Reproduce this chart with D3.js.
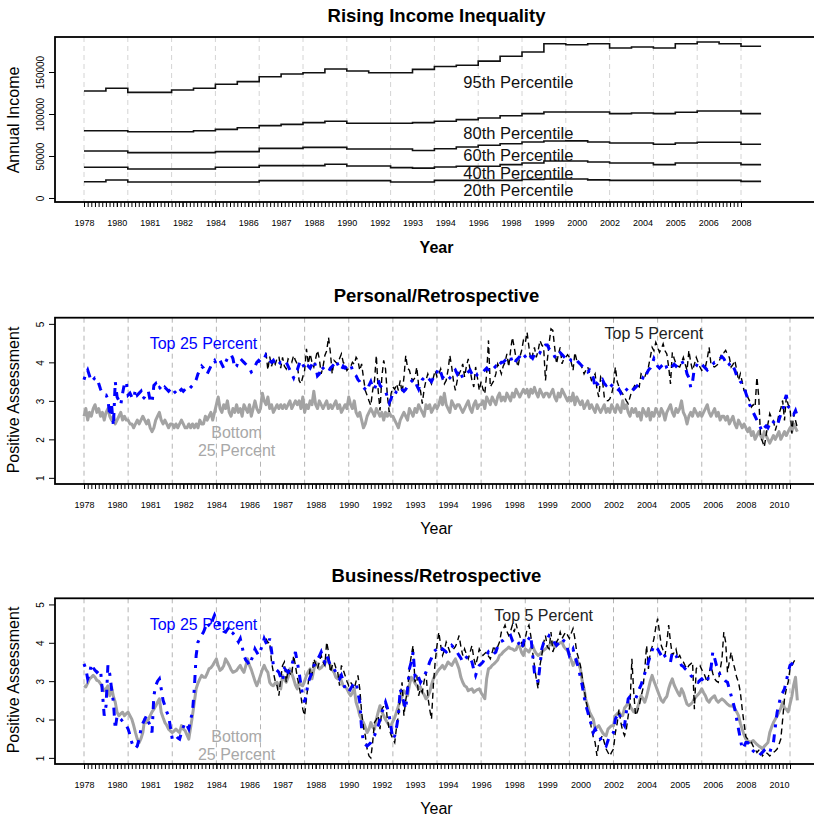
<!DOCTYPE html>
<html>
<head>
<meta charset="utf-8">
<script src="https://cdn.jsdelivr.net/npm/d3@7"></script>
<style>
  body { margin: 0; background: #fff; }
  svg { display: block; font-family: "Liberation Sans", Arial, sans-serif; }
</style>
</head>
<body>
<div class="canvas"></div>
<script>
// ---------------- data ----------------
// annual household income at selected percentiles, 1978-2008
const incomeYears = d3.range(1978, 2009);
const p95 = [127400,130600,125800,125800,128600,130600,135400,138500,144400,147600,
             149200,153600,151200,149200,149200,153200,156500,158000,163000,168700,
             173800,183700,182500,183700,178600,179800,178600,183700,185700,183700,
             180600];
const p80 = [80100,80100,78900,78900,78900,80100,81700,83700,86100,87700,
             89700,91300,88900,88900,88900,89700,91300,93300,95200,98000,
             100400,102400,102400,102400,100400,101200,100400,102000,103600,103600,
             100400];
const p60 = [56000,56000,54000,54000,54000,54000,55200,55200,59100,59100,
             60300,60300,58300,58300,58300,56500,58700,60700,62700,64600,
             66700,67900,68000,66700,65500,65500,63900,65500,66300,66300,
             63900];
const p40 = [36500,36500,34500,34500,34500,34500,36500,36500,38500,38500,
             38500,40100,38100,38100,36100,35500,36900,37700,37700,39700,
             41700,44000,44000,42900,41700,41700,39700,41700,41700,41700,
             39700];
const p20 = [19400,21400,19000,19000,19000,19000,19000,19000,20600,20600,
             20600,20600,20600,20600,19000,19000,21000,21000,21000,21000,
             22000,22600,22600,21500,21000,21000,21000,21000,21000,21000,
             19800];
const incomeNames = ["95th Percentile", "80th Percentile", "60th Percentile", "40th Percentile", "20th Percentile"];

// monthly survey series, Jan 1978 - May 2010 (Top 5 starts Apr 1986)
const seriesStart = [1978, 1];
const top5Start = [1986, 4];

const persBottom = [
  2.6,2.8,2.5,2.7,2.6,2.8,2.9,2.7,2.8,2.6,2.7,2.5,   // 1978
  2.7,2.8,2.6,2.5,2.6,2.4,2.5,2.6,2.7,2.5,2.6,2.5,   // 1979
  2.5,2.4,2.4,2.3,2.4,2.5,2.4,2.5,2.6,2.5,2.4,2.5,   // 1980
  2.3,2.2,2.3,2.5,2.6,2.7,2.5,2.4,2.5,2.4,2.3,2.4,   // 1981
  2.4,2.3,2.4,2.3,2.4,2.5,2.4,2.3,2.3,2.4,2.3,2.4,   // 1982
  2.3,2.4,2.3,2.5,2.4,2.4,2.6,2.5,2.6,2.7,2.5,2.7,   // 1983
  2.9,3.1,2.8,2.7,2.9,2.8,3.0,2.7,2.6,2.8,2.7,2.9,   // 1984
  2.7,2.8,2.6,2.9,2.8,2.7,2.9,2.6,2.8,3.0,2.8,2.7,   // 1985
  2.8,3.2,3.0,2.9,3.1,2.8,2.9,2.7,2.8,2.9,2.8,2.9,   // 1986
  2.8,2.9,2.8,2.9,3.0,2.8,2.9,3.0,2.9,3.0,2.8,3.1,   // 1987
  2.7,2.9,2.8,3.0,2.9,3.25,2.9,2.8,3.0,2.9,2.8,2.9,  // 1988
  3.0,2.8,2.9,2.8,2.9,3.0,2.8,2.9,2.7,2.8,2.9,2.8,   // 1989
  3.1,2.9,2.8,3.0,2.7,2.6,2.7,2.5,2.3,2.4,2.6,2.7,   // 1990
  2.8,2.7,2.6,2.8,2.7,2.6,2.7,2.5,2.7,2.6,2.7,2.6,   // 1991
  2.6,2.5,2.4,2.3,2.5,2.6,2.7,2.6,2.5,2.8,2.7,2.6,   // 1992
  2.8,2.7,2.9,2.8,2.7,2.6,2.9,2.8,2.9,2.7,2.8,2.9,   // 1993
  2.8,2.9,3.1,2.9,3.2,2.9,2.8,2.7,3.0,2.9,2.8,2.9,   // 1994
  2.9,2.8,2.7,2.8,2.9,3.0,2.8,2.7,2.9,3.0,2.8,2.9,   // 1995
  2.9,3.0,2.8,3.1,3.0,2.9,3.1,3.0,2.9,3.1,3.2,3.0,   // 1996
  3.1,3.0,3.2,3.1,3.0,3.2,3.1,3.3,3.2,3.1,3.2,3.3,   // 1997
  3.2,3.3,3.1,3.3,3.2,3.35,3.2,3.1,3.3,3.2,3.1,3.2,  // 1998
  3.2,3.1,3.2,3.3,3.1,3.0,3.2,3.1,3.3,3.2,3.1,3.0,   // 1999
  3.1,3.0,3.2,2.9,3.1,3.0,2.9,3.0,2.8,2.9,3.0,2.8,   // 2000
  2.9,2.8,2.7,2.9,2.8,2.7,2.8,2.9,2.7,2.8,2.7,2.9,   // 2001
  2.8,2.7,2.9,2.8,2.7,3.0,2.8,2.9,2.7,2.6,2.8,2.7,   // 2002
  2.8,2.6,2.7,2.5,2.8,2.7,2.6,2.8,2.5,2.7,2.6,2.8,   // 2003
  2.7,2.6,2.8,2.7,2.5,2.7,2.8,2.9,2.7,2.6,2.8,2.7,   // 2004
  2.8,3.0,2.7,2.6,2.4,2.6,2.7,2.6,2.8,2.7,2.6,2.7,   // 2005
  2.6,2.7,2.8,2.9,2.7,2.6,2.7,2.8,2.6,2.7,2.5,2.6,   // 2006
  2.6,2.5,2.6,2.4,2.5,2.6,2.4,2.3,2.5,2.4,2.3,2.4,   // 2007
  2.3,2.2,2.3,2.1,2.2,2.0,2.1,2.2,2.1,2.0,2.2,2.1,   // 2008
  2.0,1.9,2.0,2.1,2.0,2.1,2.2,2.0,2.1,2.2,2.1,2.2,   // 2009
  2.3,2.2,2.4,2.3,2.2                                // 2010
];
const persTop25 = [
  3.55,3.7,3.8,3.65,3.5,3.55,3.6,3.6,3.45,3.3,3.2,3.15,     // 1978
  3.15,3.05,2.6,2.9,2.35,3.5,3.1,3.0,2.9,3.2,3.45,3.5,      // 1979
  3.15,3.2,3.1,3.05,3.3,3.15,3.2,3.25,3.05,3.1,3.2,3.25,    // 1980
  3.0,2.95,3.4,3.45,3.3,3.35,3.3,3.25,3.35,3.3,3.25,3.3,    // 1981
  3.35,3.25,3.2,3.15,3.25,3.3,3.25,3.3,3.35,3.3,3.35,3.4,   // 1982
  3.45,3.55,3.7,3.8,3.9,3.85,3.75,3.7,3.8,3.9,4.0,4.05,     // 1983
  3.95,4.0,4.05,3.95,3.85,4.0,4.1,4.15,4.2,4.1,3.85,3.9,    // 1984
  4.05,4.1,4.05,4.0,3.95,3.9,3.85,3.75,3.8,3.9,4.0,4.05,    // 1985
  4.0,4.05,4.1,4.2,4.15,4.05,4.0,4.05,3.95,3.9,3.95,4.0,    // 1986
  4.0,4.05,4.0,3.9,3.8,3.7,3.6,3.75,3.8,3.95,4.05,3.95,     // 1987
  3.85,3.8,3.9,3.85,3.95,4.05,3.9,3.65,3.7,3.9,3.85,3.8,    // 1988
  3.8,3.75,3.85,3.9,3.95,4.05,3.95,3.85,3.8,3.9,3.85,3.9,   // 1989
  3.9,3.95,3.8,3.7,3.65,3.55,3.5,3.4,3.35,3.3,3.25,3.4,     // 1990
  3.5,3.35,3.3,3.45,3.55,3.4,3.35,3.3,3.25,3.1,2.95,3.05,   // 1991
  3.2,3.15,3.25,3.3,3.35,3.3,3.25,3.3,3.4,3.45,3.5,3.55,    // 1992
  3.55,3.4,3.3,3.45,3.55,3.6,3.65,3.6,3.55,3.5,3.6,3.75,    // 1993
  3.75,3.85,3.75,3.6,3.65,3.7,3.65,3.6,3.65,3.75,3.8,3.7,   // 1994
  3.8,3.7,3.6,3.65,3.7,3.75,3.8,3.7,3.65,3.6,3.7,3.7,       // 1995
  3.7,3.75,3.8,3.85,3.8,3.75,3.8,3.85,3.9,3.85,3.95,4.0,    // 1996
  4.0,4.05,4.1,4.1,4.15,4.0,3.95,4.05,4.1,4.15,4.25,4.2,    // 1997
  4.15,4.05,4.1,4.15,4.1,4.2,4.25,4.3,4.25,4.35,4.4,4.45,   // 1998
  4.45,4.35,4.3,4.25,4.15,4.1,4.2,4.25,4.2,4.15,4.1,4.15,   // 1999
  4.1,4.05,4.05,4.0,4.05,4.0,3.95,3.9,3.85,3.8,3.75,3.8,    // 2000
  3.7,3.6,3.35,3.45,3.4,3.5,3.55,3.45,3.4,3.45,3.35,3.4,    // 2001
  3.35,3.3,3.25,3.3,3.2,3.25,3.35,3.3,3.25,3.3,3.35,3.3,    // 2002
  3.35,3.4,3.45,3.5,3.6,3.55,3.7,3.8,3.85,3.95,4.1,4.0,     // 2003
  3.9,3.85,3.9,3.95,4.0,3.85,3.8,3.85,3.9,3.95,3.9,3.95,    // 2004
  4.0,4.05,3.95,3.9,3.7,3.6,3.35,3.5,3.85,3.9,4.0,4.0,      // 2005
  3.95,3.9,3.85,3.8,3.85,3.9,3.95,4.0,4.0,4.05,4.1,4.15,    // 2006
  4.1,4.0,3.9,3.95,3.85,3.9,3.8,3.65,3.6,3.5,3.45,3.35,     // 2007
  3.2,3.05,2.9,2.8,2.7,2.6,2.5,2.4,2.3,2.2,2.3,2.35,        // 2008
  2.3,2.4,2.5,2.45,2.4,2.35,2.5,2.65,2.7,3.0,3.15,2.85,     // 2009
  2.8,2.7,2.65,2.75,2.6                                     // 2010
];
const persTop5 = [
  4.25,3.8,4.15,3.9,4.05,3.95,4.1,4.15,3.85,                // 1986 Apr-Dec
  4.13,3.9,3.83,4.09,4.05,4.0,4.18,4.05,3.96,3.53,3.44,3.62,  // 1987
  3.79,4.35,3.96,4.22,4.0,3.88,4.1,4.31,4.09,3.7,3.88,4.18,   // 1988
  4.3,4.65,4.26,3.7,4.05,4.0,3.96,4.1,4.22,4.0,3.95,3.79,     // 1989
  3.85,3.88,4.0,3.95,4.13,4.05,3.79,3.96,3.6,3.27,3.14,3.0,   // 1990
  2.88,3.27,3.53,4.18,3.27,2.75,3.62,4.05,3.83,3.14,2.71,3.18,// 1991
  3.36,3.3,3.44,3.27,3.53,3.2,3.6,4.18,3.85,3.79,3.6,3.53,    // 1992
  3.6,3.88,3.4,3.27,2.93,3.3,3.53,3.7,3.55,3.44,3.6,3.79,     // 1993
  3.62,3.7,3.83,3.6,3.44,3.53,3.8,4.18,3.88,3.5,3.27,3.53,    // 1994
  3.7,3.8,3.96,3.62,3.9,4.09,3.8,3.53,3.36,3.88,3.6,3.27,     // 1995
  3.5,3.3,3.18,3.7,4.57,3.36,3.45,3.53,3.7,3.96,3.85,3.7,     // 1996
  3.9,4.0,4.22,3.88,4.3,4.65,4.39,4.1,3.88,4.13,4.3,4.57,     // 1997
  4.5,4.78,4.4,4.05,4.2,4.39,4.13,4.3,4.57,4.45,4.39,3.53,    // 1998
  4.05,4.5,4.87,4.83,4.39,3.96,4.2,4.39,3.96,4.1,4.13,4.2,    // 1999
  4.13,4.0,3.79,4.26,4.05,4.0,3.96,3.85,3.7,3.8,3.88,3.7,     // 2000
  3.53,3.6,3.7,3.3,3.1,3.62,3.53,3.1,3.01,3.0,3.05,3.18,      // 2001
  3.4,3.88,3.5,3.36,3.25,3.18,3.1,3.0,2.93,3.1,3.27,3.35,     // 2002
  3.44,3.4,3.36,3.7,3.65,3.62,3.75,3.88,4.13,4.39,4.3,4.52,   // 2003
  4.4,4.26,4.35,4.48,4.3,4.22,3.88,3.44,4.26,4.1,3.96,3.9,    // 2004
  3.88,4.0,4.13,3.95,3.79,4.31,4.0,3.79,3.95,4.13,4.0,3.88,   // 2005
  3.79,3.85,3.88,4.1,4.39,3.96,3.9,3.88,3.92,3.96,4.1,4.26,   // 2006
  4.25,4.31,4.2,4.13,3.88,3.95,4.05,3.8,3.53,3.7,3.5,3.27,    // 2007
  3.27,3.1,3.0,2.84,2.9,2.84,3.62,3.1,2.06,1.95,1.8,2.1,      // 2008
  2.4,2.67,2.55,2.49,2.23,2.4,2.67,2.8,3.01,2.49,3.1,2.9,     // 2009
  2.84,2.15,2.67,2.49,2.3                                     // 2010
];

const busBottom = [
  2.88,2.85,2.95,3.06,3.1,3.15,3.1,3.02,3.0,2.93,2.85,2.75,   // 1978
  2.8,2.88,2.62,2.84,2.6,2.45,2.19,2.1,2.15,2.19,2.1,2.15,    // 1979
  2.19,2.1,2.01,1.85,1.66,1.49,1.4,1.5,1.66,2.01,1.92,2.0,    // 1980
  2.1,2.2,2.27,2.35,2.45,2.54,2.19,2.05,1.92,1.85,1.75,1.7,   // 1981
  1.66,1.7,1.75,1.7,1.66,1.84,1.75,1.71,1.6,1.49,1.8,2.1,     // 1982
  2.45,2.8,2.95,3.06,3.15,3.1,3.1,3.2,3.32,3.35,3.41,3.5,     // 1983
  3.58,3.4,3.28,3.32,3.4,3.58,3.5,3.41,3.3,3.23,3.25,3.28,    // 1984
  3.35,3.41,3.3,3.23,3.4,3.58,3.41,3.3,3.15,3.0,2.88,3.0,     // 1985
  3.15,3.3,3.41,3.3,3.23,2.97,2.9,2.88,2.95,2.97,2.85,2.8,    // 1986
  3.15,3.05,2.97,3.1,3.32,3.2,3.06,2.9,2.8,2.97,2.9,2.88,     // 1987
  3.0,3.15,3.25,3.32,3.06,3.3,3.5,3.4,3.32,3.35,3.41,3.45,    // 1988
  3.58,3.5,3.41,3.3,3.23,3.1,3.06,3.15,3.0,2.88,2.85,2.8,     // 1989
  2.7,2.62,2.7,2.8,2.45,2.3,2.1,2.0,1.92,1.8,1.66,1.75,       // 1990
  1.92,1.8,1.75,2.0,2.19,2.36,2.2,2.1,2.0,1.92,1.85,1.84,     // 1991
  1.95,2.05,2.2,2.35,2.5,2.6,2.75,2.7,2.62,2.9,3.1,3.05,      // 1992
  2.95,2.88,2.8,2.85,2.71,2.65,2.54,2.6,2.71,2.9,3.06,3.15,   // 1993
  3.23,3.3,3.35,3.41,3.32,3.4,3.5,3.45,3.41,3.5,3.58,3.45,    // 1994
  3.32,3.1,2.97,2.88,2.85,2.75,2.78,2.8,2.71,2.75,2.78,2.8,   // 1995
  2.7,2.62,2.54,3.06,3.32,3.35,3.41,3.45,3.5,3.55,3.67,3.7,   // 1996
  3.76,3.8,3.84,3.89,3.85,3.84,3.8,3.82,3.93,3.9,3.75,3.67,   // 1997
  3.84,3.8,3.76,3.85,3.93,3.8,3.72,3.67,3.7,3.76,3.8,3.84,    // 1998
  3.88,3.93,3.98,4.02,3.89,3.93,3.97,4.0,4.02,3.9,3.84,3.8,   // 1999
  3.67,3.55,3.41,3.5,3.58,3.45,3.32,3.0,2.8,2.5,2.36,2.19,    // 2000
  2.1,2.01,1.75,1.8,1.84,1.75,1.66,1.6,1.58,1.75,1.8,1.84,    // 2001
  1.84,2.1,2.15,2.19,2.1,2.1,2.3,2.36,2.45,2.35,2.27,2.2,     // 2002
  2.19,2.3,2.45,2.62,2.55,2.45,2.6,2.8,3.0,3.15,3.0,2.88,     // 2003
  2.75,2.62,2.5,2.45,2.54,2.6,2.8,2.95,3.06,2.9,2.8,2.7,      // 2004
  2.62,2.8,2.7,2.54,2.4,2.36,2.4,2.45,2.54,2.6,2.65,2.71,     // 2005
  2.8,2.7,2.62,2.5,2.45,2.54,2.58,2.62,2.5,2.45,2.5,2.54,     // 2006
  2.5,2.45,2.4,2.36,2.35,2.36,2.27,2.2,2.1,1.9,1.75,1.6,      // 2007
  1.49,1.45,1.4,1.42,1.45,1.4,1.35,1.31,1.28,1.23,1.3,1.35,   // 2008
  1.4,1.66,1.8,1.92,2.01,2.1,2.19,2.3,2.45,2.3,2.27,2.2,      // 2009
  2.4,2.6,2.9,3.1,2.5                                         // 2010
];
const busTop25 = [
  3.45,3.32,3.06,3.19,3.45,3.35,3.28,3.23,3.28,3.3,2.71,2.1,  // 1978
  2.36,3.41,3.19,2.8,2.45,1.75,2.1,2.05,2.01,1.95,1.92,1.85,  // 1979
  1.75,1.6,1.4,1.27,1.25,1.31,1.5,1.75,1.9,2.0,2.1,1.95,      // 1980
  1.84,1.66,2.62,2.88,3.0,3.06,2.8,2.5,2.36,2.2,2.1,1.8,      // 1981
  1.49,1.55,1.58,1.52,1.49,1.66,1.8,1.92,1.85,1.75,2.0,2.19,  // 1982
  2.8,3.67,4.02,4.11,4.2,4.28,4.4,4.54,4.45,4.41,4.6,4.72,    // 1983
  4.6,4.54,4.45,4.37,4.3,4.28,4.35,4.41,4.28,4.25,4.19,4.1,   // 1984
  4.02,4.11,3.9,3.67,3.55,3.5,3.41,3.55,3.67,3.84,3.75,3.67,  // 1985
  3.8,3.93,4.11,4.0,3.93,4.11,3.8,3.41,3.32,3.28,3.23,3.1,    // 1986
  3.0,3.32,3.28,3.23,3.3,3.41,3.6,3.76,3.5,3.23,2.9,2.62,     // 1987
  2.45,2.7,2.97,3.1,3.23,3.4,3.5,3.58,3.65,3.76,3.6,3.5,      // 1988
  3.67,3.55,3.41,3.35,3.32,3.23,3.15,3.06,3.15,3.0,2.8,2.75,  // 1989
  2.71,2.8,2.88,2.95,2.97,2.7,2.45,1.75,1.4,1.35,1.31,1.35,   // 1990
  1.4,1.5,1.58,1.7,1.84,2.0,2.19,2.3,2.45,2.3,2.1,1.8,        // 1991
  1.49,1.58,1.8,2.1,2.8,2.6,2.45,2.27,2.8,3.32,3.5,3.76,      // 1992
  3.15,3.23,3.1,2.97,3.06,3.15,3.23,3.35,3.5,3.6,3.76,3.8,    // 1993
  3.84,3.8,3.76,3.84,3.8,3.76,3.8,3.85,3.93,3.88,3.84,3.75,   // 1994
  3.67,3.6,3.5,3.58,3.62,3.67,3.6,3.5,3.3,3.15,3.3,3.41,      // 1995
  3.45,3.5,3.6,3.67,3.76,3.7,3.67,3.72,3.76,3.9,4.02,4.04,    // 1996
  4.06,4.1,4.11,4.15,4.19,4.06,4.1,4.11,4.02,3.95,3.84,4.0,   // 1997
  4.19,4.15,4.11,4.19,3.7,3.23,3.1,2.97,3.4,3.84,4.0,4.02,    // 1998
  4.1,4.19,4.15,4.11,4.0,3.93,3.98,4.02,4.11,4.05,4.02,3.85,  // 1999
  3.67,3.75,3.84,3.65,3.5,3.32,3.1,2.88,2.6,2.36,2.2,2.01,    // 2000
  1.85,1.66,1.75,1.65,1.58,1.5,1.4,1.35,1.31,1.45,1.58,1.62,  // 2001
  1.66,2.01,2.1,2.19,2.0,1.92,1.84,2.2,2.54,2.6,2.62,2.58,    // 2002
  2.54,2.65,2.8,2.9,3.06,3.2,3.32,3.5,3.67,3.8,3.93,3.88,     // 2003
  3.84,3.75,3.67,3.76,3.65,3.58,3.55,3.5,3.76,3.7,3.67,3.55,  // 2004
  3.5,3.41,3.38,3.32,3.28,3.23,3.15,3.1,3.06,3.0,2.97,3.02,   // 2005
  3.06,3.0,2.97,2.97,3.2,3.32,3.76,3.6,3.41,3.3,3.15,3.1,     // 2006
  3.06,3.0,2.97,2.8,2.62,2.45,2.27,2.0,1.75,1.5,1.23,1.3,     // 2007
  1.4,1.4,1.35,1.23,1.18,1.14,1.1,1.05,1.1,1.14,1.2,1.23,     // 2008
  1.2,1.14,1.3,1.4,1.8,2.19,2.4,2.62,2.7,2.8,3.0,3.23,        // 2009
  3.41,3.45,3.5,3.55,3.6                                      // 2010
];
const busTop5 = [
  4.11,4.0,4.02,3.5,3.23,3.0,2.88,2.62,3.06,                  // 1986 Apr-Dec
  3.41,3.5,2.97,3.32,3.2,3.15,3.67,3.41,3.1,2.88,2.6,2.27,    // 1987
  2.1,2.54,2.97,3.32,3.15,3.58,3.45,3.32,3.5,3.67,3.5,3.41,   // 1988
  4.02,3.76,3.23,3.4,3.5,3.35,3.23,2.88,3.41,3.3,3.15,3.0,    // 1989
  2.88,2.97,2.9,2.8,3.0,3.15,2.8,2.19,1.8,1.58,1.23,1.05,     // 1990
  1.0,1.4,1.92,2.0,2.1,1.75,2.27,2.35,2.45,2.01,1.75,1.6,     // 1991
  1.5,1.4,1.8,2.1,2.62,2.97,2.1,2.5,2.8,3.3,3.67,3.93,        // 1992
  2.97,3.15,2.62,2.8,2.71,3.0,3.23,2.6,2.27,2.01,2.88,3.5,    // 1993
  3.93,4.28,3.93,3.67,3.8,4.02,3.9,3.76,3.8,3.84,3.9,4.02,    // 1994
  4.19,3.9,3.67,3.84,3.7,3.58,3.75,3.93,3.6,3.41,3.6,3.84,    // 1995
  3.75,3.67,3.72,3.76,3.65,3.58,3.75,3.93,3.76,3.9,4.02,4.28, // 1996
  4.35,4.46,4.3,4.19,4.3,4.46,4.28,4.5,4.3,4.19,4.0,3.84,     // 1997
  4.1,4.37,4.46,4.19,3.76,3.4,3.06,2.8,3.41,3.67,4.0,4.19,    // 1998
  3.9,3.84,4.28,3.76,3.9,4.02,4.1,4.28,4.11,4.2,4.28,4.2,     // 1999
  4.11,4.25,4.37,4.11,3.76,3.6,3.41,3.1,2.8,2.5,2.27,2.1,     // 2000
  1.75,1.55,1.4,1.05,1.4,1.5,1.58,1.4,1.23,1.14,1.05,1.15,    // 2001
  1.23,1.66,1.9,2.27,1.92,1.7,1.58,1.75,2.1,2.4,3.58,2.71,    // 2002
  2.1,2.2,2.36,2.6,2.8,3.3,3.93,3.32,3.76,3.9,4.11,4.4,       // 2003
  4.63,4.28,3.93,3.8,3.67,4.0,4.46,4.02,3.67,3.75,3.84,3.6,   // 2004
  3.67,3.55,3.5,3.4,3.32,3.41,3.45,3.5,2.27,3.32,3.4,3.41,    // 2005
  3.3,3.23,3.1,2.97,3.2,3.41,3.2,3.06,3.0,2.97,3.3,3.58,      // 2006
  4.28,4.02,3.23,3.5,3.76,3.5,3.32,3.1,2.97,2.71,2.27,1.9,    // 2007
  1.55,1.49,1.45,1.4,1.3,1.23,1.14,1.2,1.23,1.05,1.1,1.14,    // 2008
  1.1,1.05,1.1,1.14,1.18,1.23,1.35,1.49,2.0,2.54,2.8,2.97,    // 2009
  3.32,3.4,3.5,3.58,3.6                                       // 2010
];

// x axis: labels every 18 months, ticks every 2 months, grid every 2 years
const xLabels = ["1978","1980","1981","1982","1984","1986","1987","1988","1990","1992","1993",
                 "1994","1996","1998","1999","2000","2002","2004","2005","2006","2008","2010"];
const labelStep = 18, tickStep = 2, gridStep = 24;
const incomeTicks = [0, 50000, 100000, 150000];
const assessTicks = [1, 2, 3, 4, 5];

// sanity check on series lengths
[[persBottom,389],[persTop25,389],[persTop5,290],[busBottom,389],[busTop25,389],[busTop5,290]]
  .forEach(([a, n], i) => { if (a.length !== n) throw new Error('series ' + i + ' has ' + a.length); });

// ---------------- drawing ----------------
const W = 814, H = 818, left = 55, right = 818;
const svg = d3.select('.canvas').append('svg').attr('width', W).attr('height', H);
svg.append('rect').attr('width', W).attr('height', H).attr('fill', '#fff');

const monthIndex = ([y, m]) => (y - 1978) * 12 + (m - 1);
const monthly = (vals, start) => vals.map((v, i) => ({ t: monthIndex(start) + i, v }));

function frame(o) {
  const g = svg.append('g');
  const mid = (left + right) / 2;

  // vertical grid
  g.selectAll('line.grid')
    .data(d3.range(0, o.lastTick + 1, gridStep))
    .join('line')
      .attr('x1', d => o.x(d)).attr('x2', d => o.x(d))
      .attr('y1', o.top).attr('y2', o.bottom)
      .attr('stroke', o.gridColor).attr('stroke-width', 1)
      .attr('stroke-dasharray', '5,4');

  // minor ticks
  g.append('g')
    .attr('transform', `translate(0,${o.bottom})`)
    .call(d3.axisBottom(o.x).tickValues(d3.range(0, o.lastTick + 1, tickStep)).tickSize(5).tickFormat(''))
    .call(a => a.select('.domain').remove());

  // labelled ticks
  g.append('g')
    .attr('transform', `translate(0,${o.bottom})`)
    .call(d3.axisBottom(o.x)
      .tickValues(d3.range(0, o.nLabels).map(i => i * labelStep))
      .tickSize(5).tickPadding(12.5)
      .tickFormat((d, i) => xLabels[i]))
    .call(a => a.select('.domain').remove())
    .attr('font-family', '"Liberation Sans", Arial, sans-serif')
    .attr('font-size', 9);

  // y axis with rotated labels
  g.append('g')
    .attr('transform', `translate(${left},0)`)
    .call(d3.axisLeft(o.y).tickValues(o.yTicks).tickSize(6).tickFormat(d3.format('d')))
    .call(a => a.select('.domain').remove())
    .attr('font-family', '"Liberation Sans", Arial, sans-serif')
    .attr('font-size', 10)
    .call(a => a.selectAll('text')
      .attr('x', null).attr('dy', null)
      .attr('text-anchor', 'middle')
      .attr('transform', 'translate(-11,0) rotate(-90)'));

  // box
  g.append('rect')
    .attr('x', left).attr('y', o.top)
    .attr('width', right - left).attr('height', o.bottom - o.top)
    .attr('fill', 'none').attr('stroke', '#000').attr('stroke-width', 1.8);

  // titles
  g.append('text').attr('x', mid).attr('y', o.titleY)
    .attr('text-anchor', 'middle').attr('dominant-baseline', 'central')
    .attr('font-weight', 'bold').attr('font-size', 18.5).text(o.title);
  g.append('text').attr('x', mid).attr('y', o.xTitleY)
    .attr('text-anchor', 'middle').attr('dominant-baseline', 'central')
    .attr('font-weight', o.xTitleBold ? 'bold' : 'normal').attr('font-size', 16).text('Year');
  g.append('text')
    .attr('transform', `translate(19,${o.yTitleY}) rotate(-90)`)
    .attr('text-anchor', 'middle').attr('font-size', 16).text(o.yTitle);
  return g;
}

function note(g, x, y, text, color, size) {
  g.append('text').attr('x', x).attr('y', y)
    .attr('text-anchor', 'middle').attr('dominant-baseline', 'central')
    .attr('font-size', size || 16).attr('fill', color).text(text);
}

// ----- panel 1: income -----
{
  const x = d3.scaleLinear().domain([0, 360]).range([84, 741]);
  const y = d3.scaleLinear().domain([-4800, 191700]).range([202, 37]);
  const g = frame({ x, y, top: 37, bottom: 202, lastTick: 360, nLabels: 21,
    yTicks: incomeTicks, gridColor: '#d4d4d4', title: 'Rising Income Inequality',
    titleY: 15, xTitleY: 247, xTitleBold: true, yTitle: 'Annual Income', yTitleY: 120 });

  const line = d3.line().x(d => x(d.t)).y(d => y(d.v)).curve(d3.curveStepAfter);
  const endT = incomeYears.length * 12 - 1;
  [p95, p80, p60, p40, p20].forEach(vals => {
    const pts = incomeYears.map((yr, i) => ({ t: (yr - 1978) * 12, v: vals[i] }));
    pts.push({ t: endT, v: vals[vals.length - 1] });
    g.append('path').attr('d', line(pts))
      .attr('fill', 'none').attr('stroke', '#111').attr('stroke-width', 1.6);
  });
  const labelAt = [138000, 77700, 50800, 29800, 9200];
  incomeNames.forEach((n, i) => note(g, x(238), y(labelAt[i]), n, '#111', 16.5));
}

// ----- panels 2 and 3: assessments -----
function assessPanel(o, bottom25, top25, top5) {
  const x = d3.scaleLinear().domain([0, 384]).range([84, 790]);
  const y = d3.scaleLinear().domain([0.84, 5.16]).range([o.bottom, o.top]);
  const g = frame(Object.assign({ x, y, lastTick: 384, nLabels: 22, yTicks: assessTicks,
    gridColor: '#b4b4b4', xTitleBold: false, yTitle: 'Positive Assessment' }, o));

  const line = d3.line().x(d => x(d.t)).y(d => y(d.v));
  g.append('path').attr('d', line(monthly(bottom25, seriesStart)))
    .attr('fill', 'none').attr('stroke', '#a3a3a3').attr('stroke-width', 3)
    .attr('stroke-linejoin', 'round');
  g.append('path').attr('d', line(monthly(top5, top5Start)))
    .attr('fill', 'none').attr('stroke', '#000').attr('stroke-width', 1.4)
    .attr('stroke-dasharray', '6,4');
  g.append('path').attr('d', line(monthly(top25, seriesStart)))
    .attr('fill', 'none').attr('stroke', '#0000ff').attr('stroke-width', 3)
    .attr('stroke-dasharray', '3,7,8,7');

  note(g, x(65), y(o.top25Y), 'Top 25 Percent', '#0000ff');
  note(g, x(83), y(o.bottomY), 'Bottom', '#a8a8a8');
  note(g, x(83), y(o.bottomY - 0.47), '25 Percent', '#a8a8a8');
  note(g, x(o.top5T), y(o.top5Y), 'Top 5 Percent', '#222');
}

assessPanel({ top: 317.7, bottom: 484, title: 'Personal/Retrospective', titleY: 295,
  xTitleY: 528.5, yTitleY: 400, top25Y: 4.49, bottomY: 2.17, top5T: 310, top5Y: 4.75 },
  persBottom, persTop25, persTop5);

assessPanel({ top: 598.3, bottom: 764, title: 'Business/Retrospective', titleY: 575,
  xTitleY: 808, yTitleY: 680, top25Y: 4.48, bottomY: 1.55, top5T: 250, top5Y: 4.72 },
  busBottom, busTop25, busTop5);
</script>
</body>
</html>
